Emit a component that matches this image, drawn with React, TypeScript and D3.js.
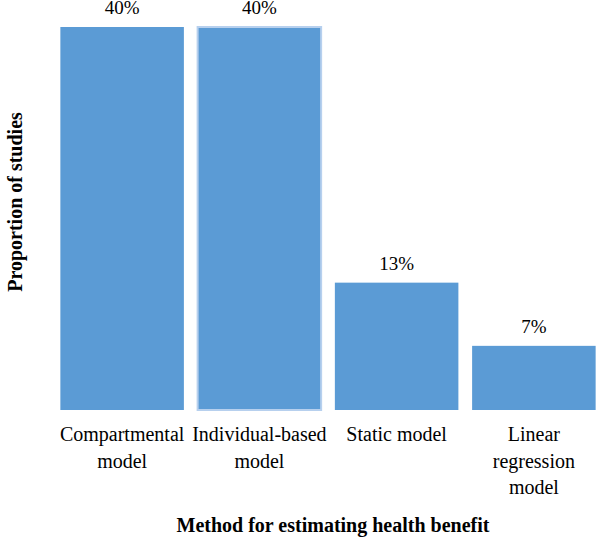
import React from "react";
import * as d3 from "d3";

const categories = ["Compartmental model", "Individual-based model", "Static model", "Linear regression model"];
const categoryLines = [["Compartmental", "model"], ["Individual-based", "model"], ["Static model"], ["Linear", "regression", "model"]];
const values = [40, 40, 13.3, 6.7];
const xTitle = "Method for estimating health benefit";
const yTitle = "Proportion of studies";

const W = 596;
const H = 537;
const FONT = "'Liberation Serif', 'Times New Roman', Times, serif";
const BAR = "#5B9BD5";

export default function App() {
  const x = d3.scaleBand<string>().domain(categories).range([53.5, 602.5]).paddingInner(0.1).paddingOuter(0.05);
  const y = d3.scaleLinear().domain([0, 40]).range([410, 27]);

  return (
    <svg width={W} height={H} style={{ position: "absolute", left: 0, top: 0, background: "#fff" }} fontFamily={FONT}>
      {categories.map((c, i) => {
        const bx = x(c) as number;
        const bw = x.bandwidth();
        const top = y(values[i]);
        const cx = bx + bw / 2;
        return (
          <g key={c}>
            <rect
              x={bx}
              y={top}
              width={bw}
              height={y(0) - top}
              fill={BAR}
              stroke={i === 1 ? "#b7d0ee" : "none"}
              strokeWidth={i === 1 ? 2 : 0}
            />
            <text x={cx} y={top - 13} textAnchor="middle" fontSize={19} fill="#000">
              {`${Math.round(values[i])}%`}
            </text>
            <text textAnchor="middle" fontSize={20} fill="#000">
              {categoryLines[i].map((ln, j) => (
                <tspan key={j} x={cx} y={441 + j * 26.5}>
                  {ln}
                </tspan>
              ))}
            </text>
          </g>
        );
      })}
      <text x={333} y={532} textAnchor="middle" fontSize={20} fontWeight="bold" fill="#000">
        {xTitle}
      </text>
      <text
        transform={`translate(22, 202) rotate(-90)`}
        textAnchor="middle"
        fontSize={20}
        fontWeight="bold"
        fill="#000"
      >
        {yTitle}
      </text>
    </svg>
  );
}
